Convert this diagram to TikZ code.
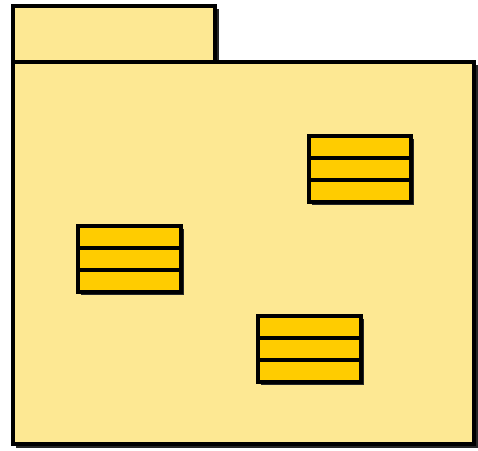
\documentclass[tikz,border=0pt]{standalone}
\usepackage{tikz}
\definecolor{pkgyellow}{HTML}{FDE893}
\definecolor{clsgold}{HTML}{FFCC00}
\tikzset{
  outline/.style={draw=black, line width=3.4pt},
  shade/.style={fill=black!85}
}

\begin{document}
\begin{tikzpicture}[x=1pt,y=-1pt]
        \useasboundingbox (0,0) rectangle (478,450);
        % package tab and body
        \fill[shade] (16,9) rectangle (219,65);
        \fill[shade] (16,65) rectangle (478,448);
        \filldraw[outline, fill=pkgyellow] (13,6) rectangle (215,62);
        \filldraw[outline, fill=pkgyellow] (13,62) rectangle (474,444);
        % class top right
        \fill[shade] (312,139) rectangle (414,205);
        \filldraw[outline, fill=clsgold] (309,136) rectangle (411,202);
        \draw[outline] (309,158) -- (411,158);
        \draw[outline] (309,180) -- (411,180);
        % class left
        \fill[shade] (81,229) rectangle (184,295);
        \filldraw[outline, fill=clsgold] (78,226) rectangle (181,292);
        \draw[outline] (78,248) -- (181,248);
        \draw[outline] (78,270) -- (181,270);
        % class bottom
        \fill[shade] (261,319) rectangle (364,385);
        \filldraw[outline, fill=clsgold] (258,316) rectangle (361,382);
        \draw[outline] (258,338) -- (361,338);
        \draw[outline] (258,360) -- (361,360);
\end{tikzpicture}
\end{document}
